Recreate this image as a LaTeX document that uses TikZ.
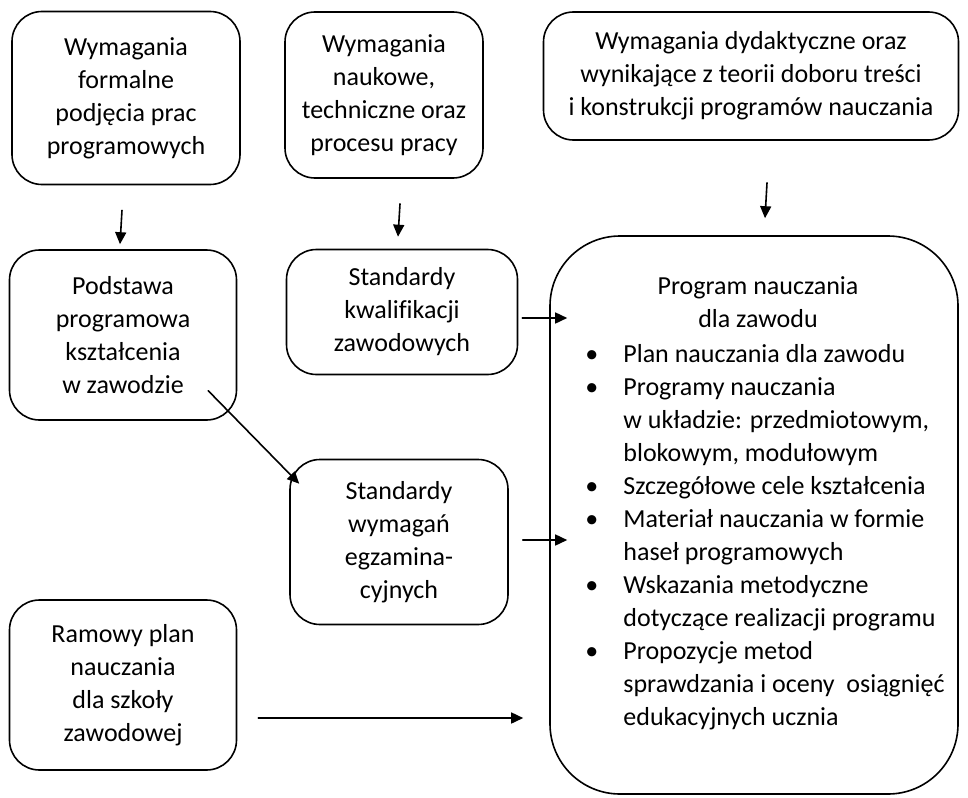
\documentclass[tikz,border=0pt]{standalone}
\usepackage{fontspec}
\setmainfont[Ligatures=NoCommon]{Carlito}
\usepackage{tikz}
\usetikzlibrary{arrows.meta,positioning,calc}
\definecolor{ink}{HTML}{000000}
\tikzset{
    every picture/.style={line cap=round,line join=round},
    srcbox/.style={draw=ink,line width=0.8pt,rounded corners=15pt,
      inner sep=2pt,align=center,font=\fontsize{13}{16.5}\selectfont},
    progbox/.style={draw=ink,line width=0.8pt,rounded corners=35pt,
      minimum width=204pt,minimum height=279pt},
    flowarrow/.style={-{Triangle[length=6pt,width=5.5pt]},draw=ink,
      line width=0.8pt}
}

\begin{document}
\begin{tikzpicture}[x=0.5pt,y=-0.5pt,font=\fontsize{13}{16.5}\selectfont]
  \useasboundingbox (0,0) rectangle (968,797);
  \node[srcbox,minimum width=114pt,minimum height=86.5pt] (wf) at (126,98)
    {Wymagania\\formalne\\podjęcia prac\\programowych};
  \node[srcbox,minimum width=99pt,minimum height=83pt] (wn) at (384,95)
    {Wymagania\\naukowe,\\techniczne oraz\\procesu pracy};
  \node[srcbox,minimum width=207.5pt,minimum height=64pt] (wd) at (751,76)
    {Wymagania dydaktyczne oraz\\wynikające z teorii doboru treści\\i konstrukcji programów nauczania};
  \node[srcbox,minimum width=113.5pt,minimum height=85pt] (pp) at (123,335)
    {Podstawa\\programowa\\kształcenia\\w zawodzie};
  \node[srcbox,minimum width=115.5pt,minimum height=62.5pt] (skz) at (402,312)
    {Standardy\\kwalifikacji\\zawodowych};
  \node[srcbox,minimum width=109pt,minimum height=82.5pt] (swe) at (399,542)
    {Standardy\\wymagań\\egzamina-\\cyjnych};
  \node[srcbox,minimum width=113.5pt,minimum height=85pt] (rpn) at (123,685)
    {Ramowy plan\\nauczania\\dla szkoły\\zawodowej};
  \node[progbox] (prog) at (754,515) {};
  \node[align=center] (progt) at (758,302) {Program nauczania\\dla zawodu};
  \node[anchor=north west,inner sep=0pt] (progl) at (585,339) {%
    \begin{tabular}{@{}p{19pt}@{}l@{}}
      \textbullet & Plan nauczania dla zawodu\\
      \textbullet & Programy nauczania\\
                  & w układzie: przedmiotowym,\\
                  & blokowym, modułowym\\
      \textbullet & Szczegółowe cele kształcenia\\
      \textbullet & Materiał nauczania w formie\\
                  & haseł programowych\\
      \textbullet & Wskazania metodyczne\\
                  & dotyczące realizacji programu\\
      \textbullet & Propozycje metod\\
                  & sprawdzania i oceny\ \ osiągnięć\\
                  & edukacyjnych ucznia
    \end{tabular}};
  \draw[flowarrow] ($(wf.south)+(-4,25)$) -- ($(pp.north)+(-3,-5)$);
  \draw[flowarrow] ($(wn.south)+(16,25)$) -- ($(skz.north)+(-4,-12)$);
  \draw[flowarrow] ($(wd.south)+(16,42)$) -- ($(prog.north)+(11,-17)$);
  \draw[flowarrow] ($(skz.east)+(4,6)$) -- ($(skz.east -| prog.west)+(18,6)$);
  \draw[flowarrow] ($(pp.south east)+(-29,-30)$) -- ($(swe.north west)+(10,25)$);
  \draw[flowarrow] ($(swe.east)+(14,-2)$) -- ($(swe.east -| prog.west)+(18,-2)$);
  \draw[flowarrow] ($(rpn.east)+(21,33)$) -- ($(rpn.east -| prog.west)+(-26,33)$);
\end{tikzpicture}
\end{document}
